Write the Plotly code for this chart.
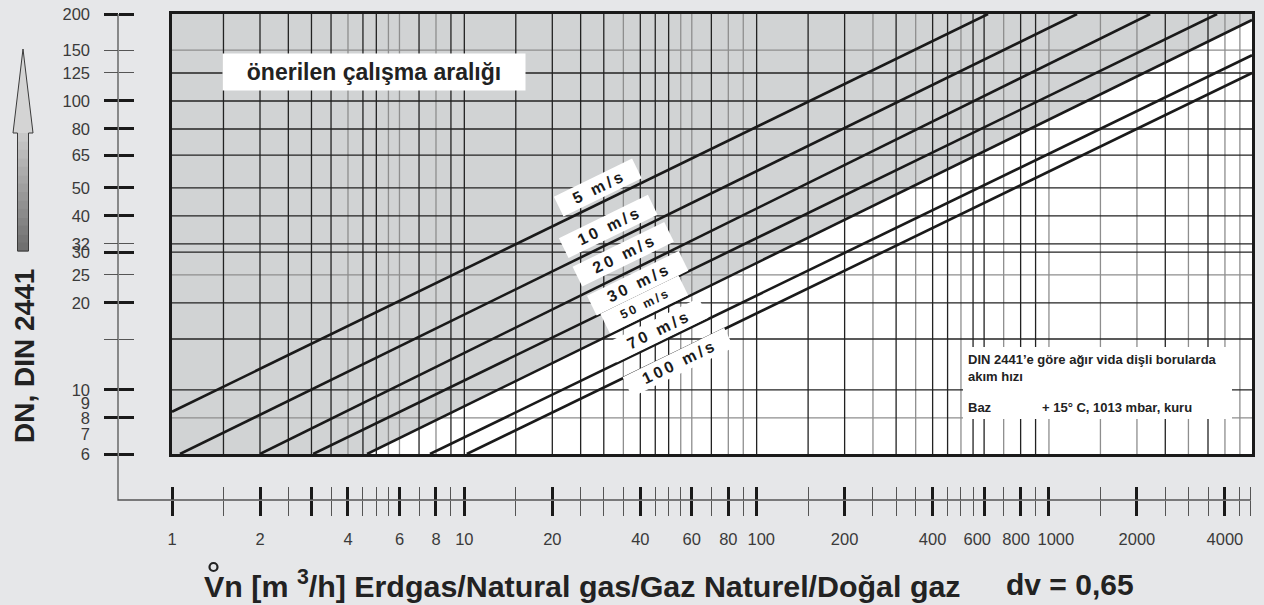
import math
import plotly.graph_objects as go

W, H = 1264, 605

# ---------------- data ----------------
velocity_labels = ["5 m/s", "10 m/s", "20 m/s", "30 m/s", "50 m/s", "70 m/s", "100 m/s"]
q_start = [1.0, 1.065, 2.0, 3.04, 4.65, 7.63, 10.2]      # m3/h where each line enters the chart
dn_start = [8.4, 6, 6, 6, 6, 6, 6]                         # DN at entry
q_end = [619, 1248, 2218, 3760, 4950, 4950, 4950]          # m3/h where each line leaves
dn_end = [200, 200, 200, 200, 190.7, 144, 125]             # DN at exit
shade_index = 4                                             # area above 50 m/s is shaded

Q_MIN, Q_MAX = 1, 4950
DN_MIN, DN_MAX = 6, 200

NB = "\u00a0"
x_major_ticks = [1, 2, 3, 4, 6, 8, 10, 20, 40, 60, 80, 100, 200, 400, 600, 800, 1000, 2000, 4000]
x_major_text = ["1", "2", "", "4", "6", "8", "10", "20", "40", "60", "80", NB * 2 + "100",
                "200", "400", "600" + NB * 3, "800" + NB * 2, NB * 3 + "1000", "2000", "4000"]
x_minor_ticks = [1.5, 2.5, 3.5, 4.5, 5, 5.5, 7, 9, 15, 25, 30, 35, 45, 50, 55, 70, 90,
                 150, 250, 300, 350, 450, 500, 550, 700, 900,
                 1500, 2500, 3000, 3500, 4500, 4900]

y_label_vals = [200, 150, 125, 100, 80, 65, 50, 40, 32, 30, 25, 20, 10, 9, 8, 7, 6]
y_major_ticks = [200, 100, 80, 65, 50, 40, 30, 20, 10, 8, 6]
y_minor_ticks = [150, 125, 32, 25, 15]

x_grid_dark = [1.5, 2, 2.5, 3, 3.5, 4.5, 5, 7, 9, 10, 15, 20, 25, 30, 40, 45, 50, 70, 100,
               150, 200, 300, 400, 450, 550, 600, 800, 900, 2500, 3500]
x_grid_gray = [4, 5.5, 6, 8, 35, 55, 60, 80, 90, 250, 350, 500, 700, 1000, 1500, 2000,
               3000, 4000, 4500]
y_grid_dark = [125, 100, 80, 65, 50, 40, 32, 30, 20, 15, 10]
y_grid_gray = [150, 25, 8]

# label placement (pixel centres) and box widths
label_px = [(598, 188), (608, 226), (623, 255), (637, 283), (644, 304), (657, 330), (678, 362)]
label_w = [82, 94, 97, 97, 82, 97, 108]
label_fs = [16, 16, 16, 16, 12.5, 16, 16]

FONT = "Liberation Sans, Arial, Helvetica, sans-serif"
INK = "#222222"


def px(x):
    return x / W


def py(y):
    return 1 - y / H


fig = go.Figure()

# shaded recommended area (above the 50 m/s line)
fig.add_trace(go.Scatter(
    x=[Q_MIN, q_start[shade_index], q_end[shade_index], Q_MAX, Q_MIN],
    y=[DN_MIN, dn_start[shade_index], dn_end[shade_index], DN_MAX, DN_MAX],
    fill="toself", fillcolor="#d1d3d4", mode="lines", line=dict(width=0),
    hoverinfo="skip", showlegend=False))


def grid_trace(xs, ys, color):
    gx, gy = [], []
    for v in xs:
        gx += [v, v, None]
        gy += [DN_MIN, DN_MAX, None]
    for v in ys:
        gx += [Q_MIN, Q_MAX, None]
        gy += [v, v, None]
    return go.Scatter(x=gx, y=gy, mode="lines", line=dict(color=color, width=1.3),
                      hoverinfo="skip", showlegend=False)


fig.add_trace(grid_trace(x_grid_gray, y_grid_gray, "#8e8e8e"))
fig.add_trace(grid_trace(x_grid_dark, y_grid_dark, "#222222"))

for i, lab in enumerate(velocity_labels):
    fig.add_trace(go.Scatter(x=[q_start[i], q_end[i]], y=[dn_start[i], dn_end[i]],
                             mode="lines", line=dict(color="#1a1a1a", width=2.6),
                             name=lab, hoverinfo="skip", showlegend=False))

# dummy traces so that the overlay axes are drawn
for xa in ["x2", "x3", "x4", "x5"]:
    fig.add_trace(go.Scatter(x=[Q_MIN], y=[DN_MIN], xaxis=xa, yaxis="y", mode="markers",
                             marker=dict(opacity=0), hoverinfo="skip", showlegend=False))
for ya in ["y2", "y3", "y4", "y5", "y6"]:
    fig.add_trace(go.Scatter(x=[Q_MIN], y=[DN_MIN], xaxis="x", yaxis=ya, mode="markers",
                             marker=dict(opacity=0), hoverinfo="skip", showlegend=False))

xr = [math.log10(Q_MIN), math.log10(Q_MAX)]
yr = [math.log10(DN_MIN), math.log10(DN_MAX)]
xpos = py(500)
ypos = px(118)

tickfont = dict(family=FONT, size=16.5, color="#3a3a3a")


def xover(side, vals, width, color, length, text=None):
    d = dict(type="log", range=xr, overlaying="x", anchor="free", position=xpos, side=side,
             tickmode="array", tickvals=vals, ticks="outside", ticklen=length,
             tickwidth=width, tickcolor=color, showgrid=False, showline=False,
             zeroline=False, fixedrange=True, tickangle=0)
    if text is None:
        d.update(showticklabels=False)
    else:
        d.update(ticktext=text, showticklabels=True, tickfont=tickfont, ticklabelstandoff=9)
    return d


def yover(side, vals, width, color, length, text=None):
    d = dict(type="log", range=yr, overlaying="y", anchor="free", position=ypos, side=side,
             tickmode="array", tickvals=vals, ticklen=max(length, 0),
             ticks="outside" if length > 0 else "",
             tickwidth=width, tickcolor=color, showgrid=False, showline=False,
             zeroline=False, fixedrange=True, tickangle=0)
    if text is None:
        d.update(showticklabels=False)
    else:
        d.update(ticktext=text, showticklabels=True, tickfont=tickfont, ticklabelstandoff=28)
    return d


fig.update_layout(
    width=W, height=H,
    margin=dict(l=0, r=0, t=0, b=0, pad=0, autoexpand=False),
    paper_bgcolor="#e6e7e9",
    plot_bgcolor="#ffffff",
    showlegend=False,
    xaxis=dict(type="log", range=xr, domain=[px(172), px(1252)], showgrid=False,
               showline=True, mirror=True, linewidth=3, linecolor="#1a1a1a",
               ticks="", showticklabels=False, zeroline=False, fixedrange=True),
    yaxis=dict(type="log", range=yr, domain=[py(454), py(14)], showgrid=False,
               showline=True, mirror=True, linewidth=3, linecolor="#1a1a1a",
               ticks="", showticklabels=False, zeroline=False, fixedrange=True),
    xaxis2=xover("bottom", x_major_ticks, 3, "#1a1a1a", 15, x_major_text),
    xaxis3=xover("bottom", x_minor_ticks, 1, "#555555", 15),
    xaxis4=xover("top", x_major_ticks, 3, "#1a1a1a", 13),
    xaxis5=xover("top", x_minor_ticks, 1, "#555555", 13),
    yaxis2=yover("left", y_label_vals, 1, "#000", 0, [str(v) for v in y_label_vals]),
    yaxis3=yover("left", y_major_ticks, 3, "#1a1a1a", 14),
    yaxis4=yover("right", y_major_ticks, 3, "#1a1a1a", 15),
    yaxis5=yover("left", y_minor_ticks, 1, "#555555", 14),
    yaxis6=yover("right", y_minor_ticks, 1, "#555555", 15),
)

shapes = []
# L-shaped outer axis line
shapes.append(dict(type="path", xref="paper", yref="paper",
                   path=f"M {px(118)},{py(14)} L {px(118)},{py(500)} L {px(1251)},{py(500)}",
                   line=dict(color="#555555", width=1.3)))

# info box background
shapes.append(dict(type="rect", xref="paper", yref="paper", layer="above",
                   x0=px(963), x1=px(1232), y0=py(419), y1=py(347),
                   fillcolor="#ffffff", line=dict(width=0)))

# arrow next to the y title (gradient made from strips)
shapes.append(dict(type="path", xref="paper", yref="paper",
                   path=f"M {px(23)},{py(49)} L {px(33)},{py(133)} L {px(13)},{py(133)} Z",
                   fillcolor="#d4d4d4", line=dict(width=0)))
n_strips = 14
top, bot = 133, 251
for k in range(n_strips):
    y0 = top + (bot - top) * k / n_strips
    y1 = top + (bot - top) * (k + 1) / n_strips
    g = int(200 - (200 - 112) * k / (n_strips - 1))
    shapes.append(dict(type="rect", xref="paper", yref="paper",
                       x0=px(17.5), x1=px(28.5), y0=py(y1 + 0.5), y1=py(y0),
                       fillcolor=f"rgb({g},{g},{g})", line=dict(width=0)))
shapes.append(dict(type="path", xref="paper", yref="paper",
                   path=(f"M {px(23)},{py(49)} L {px(33)},{py(133)} L {px(28.5)},{py(133)} "
                         f"L {px(28.5)},{py(251)} L {px(17.5)},{py(251)} L {px(17.5)},{py(133)} "
                         f"L {px(13)},{py(133)} Z"),
                   line=dict(color="#3a3a3a", width=1)))
# ring above the V of the x title
shapes.append(dict(type="circle", xref="paper", yref="paper",
                   x0=px(209.5), x1=px(217.5), y0=py(571), y1=py(563),
                   line=dict(color=INK, width=2.2)))

annotations = []


def spaced(s):
    return "\u2009".join(list(s))


for i, lab in enumerate(velocity_labels):
    cx, cy = label_px[i]
    annotations.append(dict(
        x=px(cx), y=py(cy), xref="paper", yref="paper", xanchor="center", yanchor="middle",
        text=f"<b>{spaced(lab)}</b>",
        showarrow=False, textangle=-26, bgcolor="#ffffff", borderpad=2,
        width=label_w[i], height=17,
        font=dict(family=FONT, size=label_fs[i], color="#1a1a1a")))

annotations.append(dict(
    x=px(374), y=py(72), xref="paper", yref="paper", xanchor="center", yanchor="middle",
    text="<b>önerilen çalışma aralığı</b>", showarrow=False,
    bgcolor="#ffffff", borderpad=3, width=296, height=30,
    font=dict(family=FONT, size=23, color=INK)))

info_lines = [
    (966, 359, "DIN 2441’e göre ağır vida dişli borularda"),
    (966, 377, "akım hızı"),
    (966, 407, "Baz"),
    (1040, 407, "+ 15° C, 1013 mbar, kuru"),
]
for x, y, t in info_lines:
    annotations.append(dict(x=px(x), y=py(y), xref="paper", yref="paper",
                            xanchor="left", yanchor="middle", showarrow=False,
                            text=f"<b>{t}</b>", font=dict(family=FONT, size=13, color=INK)))

annotations.append(dict(
    x=px(24), y=py(356), xref="paper", yref="paper", xanchor="center", yanchor="middle",
    text="<b>DN, DIN 2441</b>",
    showarrow=False, textangle=-90, font=dict(family=FONT, size=28, color=INK)))

annotations.append(dict(
    x=px(202), y=py(584), xref="paper", yref="paper", xanchor="left", yanchor="middle",
    text="<b>Vn [m <sup>3</sup>/h] Erdgas/Natural gas/Gaz Naturel/Doğal gaz</b>",
    showarrow=False, font=dict(family=FONT, size=30.4, color=INK)))
annotations.append(dict(
    x=px(1004), y=py(584), xref="paper", yref="paper", xanchor="left", yanchor="middle",
    text="<b>dv = 0,65</b>", showarrow=False, font=dict(family=FONT, size=30, color=INK)))

fig.update_layout(shapes=shapes, annotations=annotations)

fig.write_html("out.html", config={"displayModeBar": False},
               post_script="document.body.style.margin='0';document.body.style.background='#e6e7e9';")
